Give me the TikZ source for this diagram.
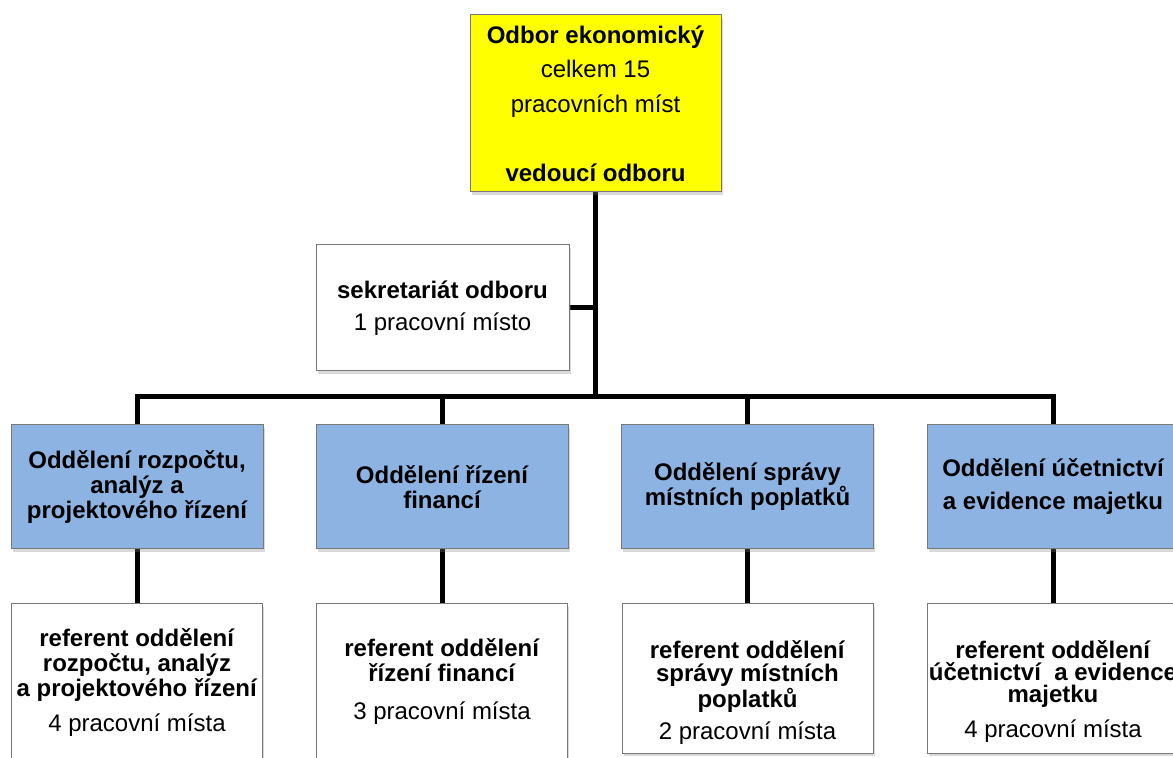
\documentclass[tikz,border=0pt]{standalone}
\usepackage{fontspec}
\setmainfont{Liberation Sans}
\usetikzlibrary{positioning,shadows,backgrounds}
\definecolor{zluta}{RGB}{255,255,0}
\definecolor{modra}{RGB}{141,179,226}
\definecolor{ramecek}{RGB}{120,120,120}

\begin{document}
\begin{tikzpicture}[x=0.5pt,y=-0.5pt,
  box/.style={draw=ramecek,line width=0.5pt,fill=white,inner sep=0pt,align=center,
    drop shadow={shadow xshift=0.8pt,shadow yshift=-1.6pt,opacity=0.3},
    font=\fontsize{12}{12.5}\selectfont},
  vedeni/.style={box,fill=zluta,minimum width=125.5pt,minimum height=88.5pt,
    font=\fontsize{12}{17.25}\selectfont},
  sekr/.style={box,minimum width=126.5pt,minimum height=63pt,
    font=\fontsize{12}{16}\selectfont},
  oddel/.style={box,fill=modra,minimum width=126pt,minimum height=62pt,
    font=\bfseries\fontsize{12}{12.5}\selectfont},
  refbox/.style={box,minimum width=125.5pt,minimum height=74.5pt},
  reftext/.style={align=center,inner sep=0pt,font=\fontsize{12}{12.5}\selectfont},
  spoj/.style={line width=2.5pt,black}]
  \useasboundingbox (0,0) rectangle (1173,758);
  % vedeni odboru a sekretariat
  \node[vedeni] (top) at (595.5,103.5) {\textbf{Odbor ekonomický}\\ celkem 15\\ pracovních míst\\[17.25pt] \textbf{vedoucí odboru}};
  \node[sekr] (sek) at (442.5,308) {\textbf{sekretariát odboru}\\ 1 pracovní místo};
  \coordinate (bar) at (595,397);
  % oddeleni
  \node[oddel] (odd1) at (137,487) {Oddělení rozpočtu,\\ analýz a\\ projektového řízení};
  \node[oddel] (odd2) at (442,487) {Oddělení řízení\\ financí};
  \node[oddel] (odd3) at (747.5,487) {Oddělení správy\\ místních poplatků};
  \node[oddel] (odd4) at (1053,487) {Oddělení účetnictví\\[4pt] a evidence majetku};
  % referenti
  \node[refbox,minimum height=80pt] (ref1) at (137,684) {};
  \node[refbox,minimum height=80pt] (ref2) at (442,684) {};
  \node[refbox] (ref3) at (747.5,678.5) {};
  \node[refbox] (ref4) at (1053,678.5) {};
  \node[reftext] (ref1t) at ([yshift=0.5pt]ref1.center) {\textbf{referent oddělení}\\ \textbf{rozpočtu, analýz}\\ \textbf{a projektového řízení}\\[5pt] 4 pracovní místa};
  \node[reftext] (ref2t) at ([yshift=1pt]ref2.center) {\textbf{referent oddělení}\\ \textbf{řízení financí}\\[6.5pt] 3 pracovní místa};
  \node[reftext,font=\fontsize{12}{11.25}\selectfont] (ref3t) at ([yshift=-7pt]ref3.center) {\textbf{referent oddělení}\\ \textbf{správy místních}\\ \textbf{poplatků}\\[3.75pt] 2 pracovní místa};
  \node[reftext,font=\fontsize{12}{11}\selectfont] (ref4t) at ([yshift=-6.5pt]ref4.center) {\textbf{referent oddělení}\\ \textbf{účetnictví~ a evidence}\\ \textbf{majetku}\\[5.5pt] 4 pracovní místa};
  % spojnice
  \begin{scope}[on background layer]
    \draw[spoj] (top.south) -- (top.south |- bar);
    \draw[spoj] (sek.east) -- (sek.east -| top.south);
    \draw[spoj] (odd1.north) -- (odd1.north |- bar) -- (odd4.north |- bar) -- (odd4.north);
    \foreach \n in {odd2,odd3} \draw[spoj] (\n.north) -- (\n.north |- bar);
    \foreach \i in {1,...,4} \draw[spoj] (odd\i.south) -- (ref\i.north);
  \end{scope}
\end{tikzpicture}
\end{document}
